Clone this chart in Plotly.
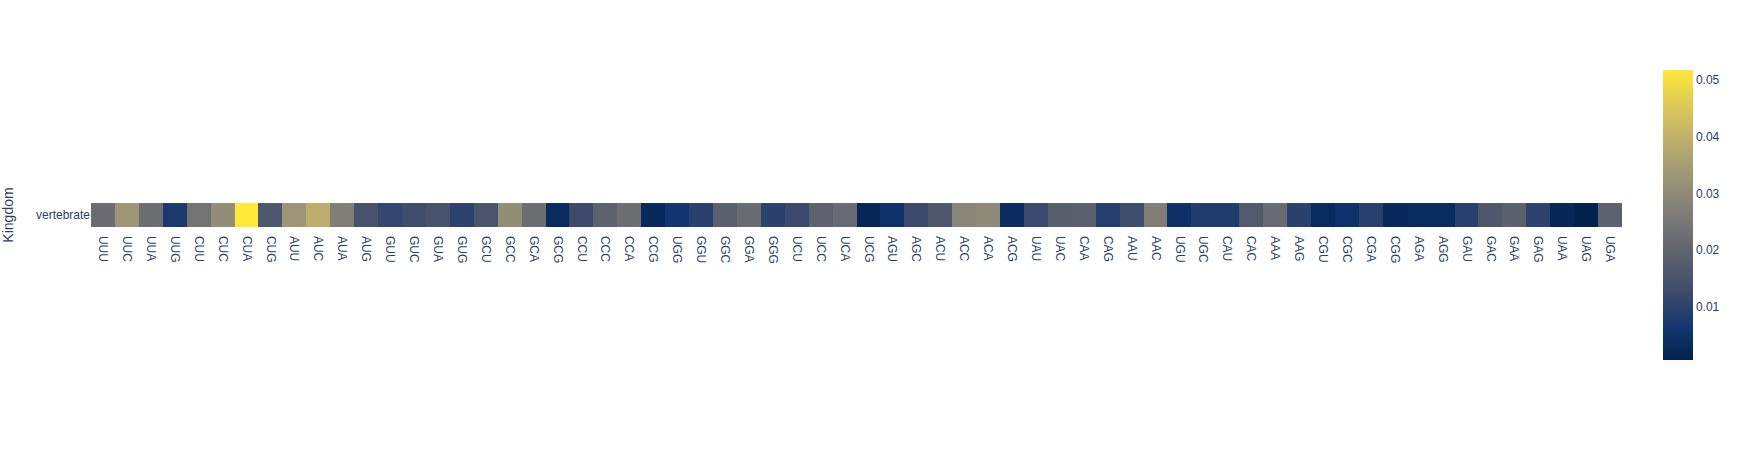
import plotly.graph_objects as go

codons = ["UUU","UUC","UUA","UUG","CUU","CUC","CUA","CUG",
          "AUU","AUC","AUA","AUG","GUU","GUC","GUA","GUG",
          "GCU","GCC","GCA","GCG","CCU","CCC","CCA","CCG",
          "UGG","GGU","GGC","GGA","GGG","UCU","UCC","UCA",
          "UCG","AGU","AGC","ACU","ACC","ACA","ACG","UAU",
          "UAC","CAA","CAG","AAU","AAC","UGU","UGC","CAU",
          "CAC","AAA","AAG","CGU","CGC","CGA","CGG","AGA",
          "AGG","GAU","GAC","GAA","GAG","UAA","UAG","UGA"]

kingdoms = ["vertebrate"]

vertebrate = [0.0220, 0.0330, 0.0226, 0.0073, 0.0240, 0.0310, 0.0518, 0.0160,
              0.0330, 0.0390, 0.0270, 0.0145, 0.0110, 0.0130, 0.0145, 0.0100,
              0.0150, 0.0310, 0.0226, 0.0030, 0.0124, 0.0190, 0.0226, 0.0027,
              0.0062, 0.0093, 0.0185, 0.0220, 0.0098, 0.0120, 0.0190, 0.0216,
              0.0021, 0.0052, 0.0120, 0.0160, 0.0288, 0.0300, 0.0037, 0.0120,
              0.0180, 0.0185, 0.0088, 0.0130, 0.0270, 0.0047, 0.0083, 0.0083,
              0.0165, 0.0216, 0.0098, 0.0032, 0.0052, 0.0093, 0.0027, 0.0032,
              0.0032, 0.0093, 0.0160, 0.0185, 0.0100, 0.0024, 0.0006, 0.0190]

fig = go.Figure(go.Heatmap(
    z=[vertebrate], x=codons, y=kingdoms,
    colorscale="cividis",
    colorbar=dict(thickness=30, len=1, ticks="", outlinewidth=0),
))
fig.update_xaxes(tickangle=90, showgrid=False, zeroline=False, constrain="domain",
                 automargin=False, ticklabelstandoff=8)
fig.update_yaxes(title=dict(text="Kingdom", standoff=21), scaleanchor="x",
                 constrain="domain", showgrid=False, zeroline=False,
                 autorange="reversed", automargin=False)
fig.update_layout(width=1740, height=450,
                  font=dict(family="Arial, Liberation Sans, sans-serif", size=12, color="#2a3f5f"),
                  margin=dict(t=60, b=80, l=91, r=118, autoexpand=False),
                  plot_bgcolor="white", paper_bgcolor="white")
fig.write_html("out.html", config={"displayModeBar": False},
               post_script="document.body.style.margin='0';")
